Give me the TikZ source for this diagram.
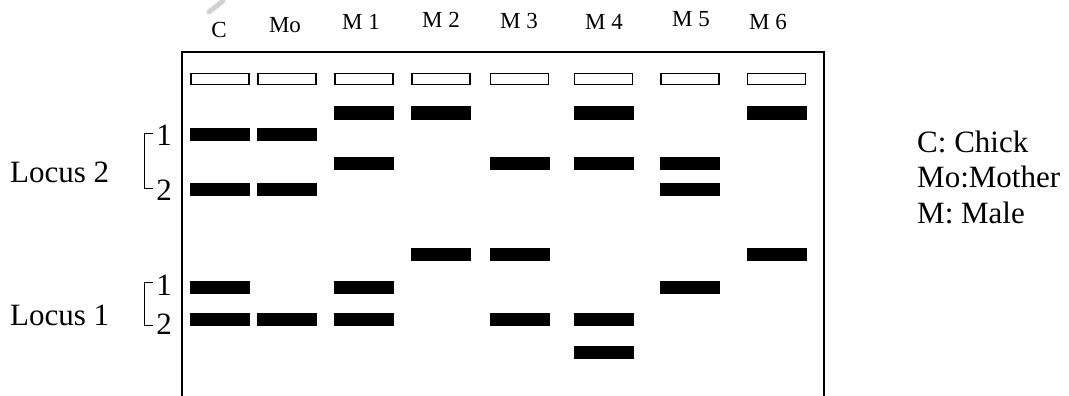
\documentclass[tikz,border=0pt]{standalone}
\usepackage{fontspec}
\setmainfont{Liberation Serif}
\begin{document}
\begin{tikzpicture}[x=1pt,y=-1pt,
  gel/.style={line width=1.6pt},
  well/.style={draw, line width=1.5pt, fill=white},
  band/.style={fill=black},
  lane/.style={font=\fontsize{23}{27}\selectfont, inner sep=0pt},
  big/.style={font=\fontsize{31}{36}\selectfont, inner sep=0pt},
  brk/.style={line width=1pt}]
\useasboundingbox (0,0) rectangle (1069,396);
% pencil artifact
\draw[line width=5pt, gray!35, line cap=round] (209,12) -- (223,1);
% gel outline
\coordinate (gbl) at (182,397);
\coordinate (gtl) at (182,52);
\coordinate (gtr) at (824,52);
\coordinate (gbr) at (824,397);
\draw[gel] (gbl) -- (gtl) -- (gtr) -- (gbr);
% lane labels
\node[lane] (lC) at (219,30) {C};
\node[lane] (lMo) at (285,25) {Mo};
\node[lane] (lM1) at (361,22) {M 1};
\node[lane] (lM2) at (441,20) {M 2};
\node[lane] (lM3) at (519,21) {M 3};
\node[lane] (lM4) at (604,22) {M 4};
\node[lane] (lM5) at (691,19) {M 5};
\node[lane] (lM6) at (768,22) {M 6};
% wells
\foreach \x/\n in {220/C,287/Mo,364/M1,441/M2,519.5/M3,603.5/M4,690/M5,776.5/M6}{
  \draw[well] (\x-29,73.5) rectangle (\x+29,84.5);
}
% bands: lane x, row y
\foreach \x/\y in {
  364/113, 441/113, 603.5/113, 776.5/113,
  220/134.5, 287/134.5,
  364/163.5, 519.5/163.5, 603.5/163.5, 690/163.5,
  220/189, 287/189, 690/189,
  441/254.5, 519.5/254.5, 776.5/254.5,
  220/287, 364/287, 690/287,
  220/319.5, 287/319.5, 364/319.5, 519.5/319.5, 603.5/319.5,
  603.5/352}{
  \fill[band] (\x-30,\y-6.5) rectangle (\x+30,\y+6.5);
}
% locus labels
\node[big, anchor=base west] (loc2) at (10,182) {Locus 2};
\node[big, anchor=base west] (loc1) at (10,325) {Locus 1};
% brackets
\draw[brk] (153,133) -- (144,133) -- (144,188) -- (153,188);
\node[big, anchor=base] (l2a) at (164,145) {1};
\node[big, anchor=base] (l2b) at (164,200) {2};
\draw[brk] (153,282) -- (144,282) -- (144,325) -- (153,325);
\node[big, anchor=base] (l1a) at (164,295) {1};
\node[big, anchor=base] (l1b) at (164,334) {2};
% legend
\node[big, anchor=base west] (kC) at (917,152) {C: Chick};
\node[big, anchor=base west] (kMo) at (917,187) {Mo:Mother};
\node[big, anchor=base west] (kM) at (917,223) {M: Male};
\end{tikzpicture}
\end{document}
